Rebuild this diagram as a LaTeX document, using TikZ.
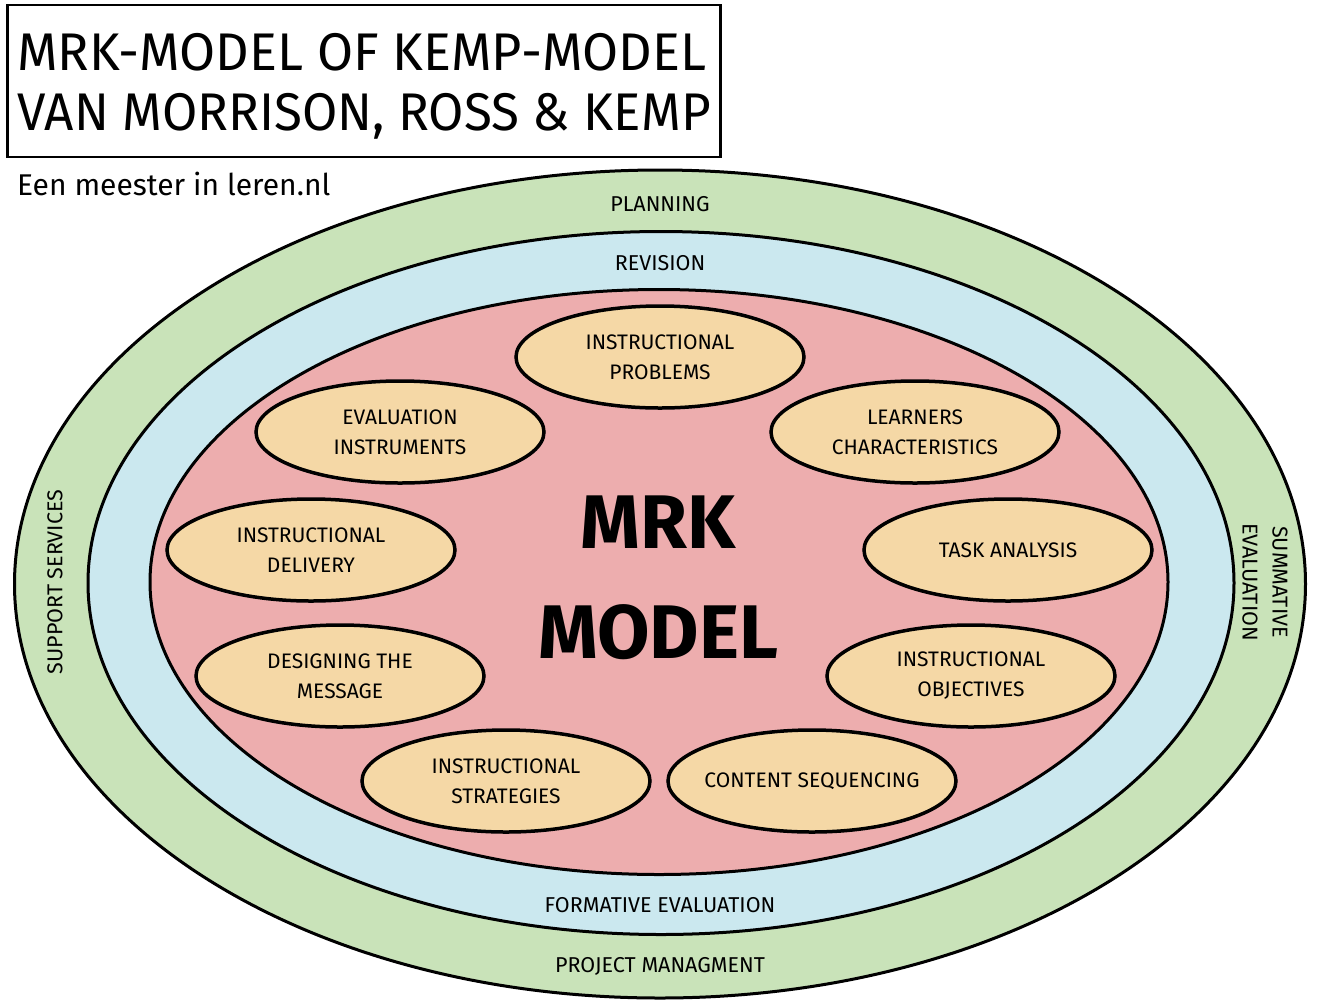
\documentclass[tikz,border=0pt]{standalone}
\usepackage{fontspec}
\setmainfont{Fira Sans}
\usetikzlibrary{shapes.geometric}
\definecolor{ringgreen}{RGB}{201,227,185}
\definecolor{ringblue}{RGB}{203,232,239}
\definecolor{ringpink}{RGB}{237,173,174}
\definecolor{stepfill}{RGB}{245,216,166}
\tikzset{
  ring/.style={ellipse, draw=black, line width=3pt, inner sep=0pt},
  stepel/.style={ellipse, draw=black, line width=3.5pt, fill=stepfill, minimum width=288pt, minimum height=102pt, inner xsep=-20pt, inner ysep=0pt, align=center, font=\fontsize{21}{30}\selectfont},
  ringlabel/.style={font=\fontsize{21.5}{22}\selectfont, inner sep=0pt},
  titleline/.style={font=\fontsize{53}{65}\selectfont, anchor=west, inner sep=0pt},
}
\begin{document}
\begin{tikzpicture}[x=1pt,y=-1pt]
\useasboundingbox (0,0) rectangle (1323,1005);
% title
\node[draw=black, line width=2.5pt, minimum width=713pt, minimum height=152pt, inner sep=0pt] (titlebox) at (364,81) {};
\node[titleline] (title1) at (17,52) {\scalebox{0.985}[1]{MRK-MODEL OF KEMP-MODEL}};
\node[titleline] (title2) at (17,116) {\scalebox{0.965}[1]{VAN MORRISON, ROSS \& KEMP}};
\node[font=\fontsize{30}{30}\selectfont, anchor=west, inner sep=0pt] (sub) at (17,184) {Een meester in leren.nl};
% rings
\node[ring, fill=ringgreen, minimum width=1291pt, minimum height=828pt] (green) at (660,584) {};
\node[ring, fill=ringblue, minimum width=1146pt, minimum height=703pt] (blue) at (661,583) {};
\node[ring, fill=ringpink, minimum width=1018pt, minimum height=585pt] (pink) at (659,582) {};
% ring labels
\node[ringlabel] (planning) at (660,204) {PLANNING};
\node[ringlabel] (revision) at (660,263) {REVISION};
\node[ringlabel] (formative) at (660,905) {FORMATIVE EVALUATION};
\node[ringlabel] (project) at (660,966) {PROJECT MANAGMENT};
\node[ringlabel, rotate=90] (support) at (55,582) {SUPPORT SERVICES};
\node[ringlabel, rotate=-90, align=center, font=\fontsize{21.5}{30}\selectfont] (summative) at (1265,582) {SUMMATIVE\\EVALUATION};
% center
\node[font=\bfseries\fontsize{76}{110}\selectfont, align=center, inner sep=0pt] (mrk) at (658,578) {MRK\\MODEL};
% steps
\node[stepel] (problems) at (660,357) {INSTRUCTIONAL\\PROBLEMS};
\node[stepel] (instruments) at (400,432) {EVALUATION\\INSTRUMENTS};
\node[stepel] (learners) at (915,432) {LEARNERS\\CHARACTERISTICS};
\node[stepel] (delivery) at (311,550) {INSTRUCTIONAL\\DELIVERY};
\node[stepel] (task) at (1008,550) {TASK ANALYSIS};
\node[stepel] (message) at (340,676) {DESIGNING THE\\MESSAGE};
\node[stepel] (objectives) at (971,676) {INSTRUCTIONAL\\OBJECTIVES};
\node[stepel] (strategies) at (506,781) {INSTRUCTIONAL\\STRATEGIES};
\node[stepel] (sequencing) at (812,781) {CONTENT SEQUENCING};
\end{tikzpicture}
\end{document}
